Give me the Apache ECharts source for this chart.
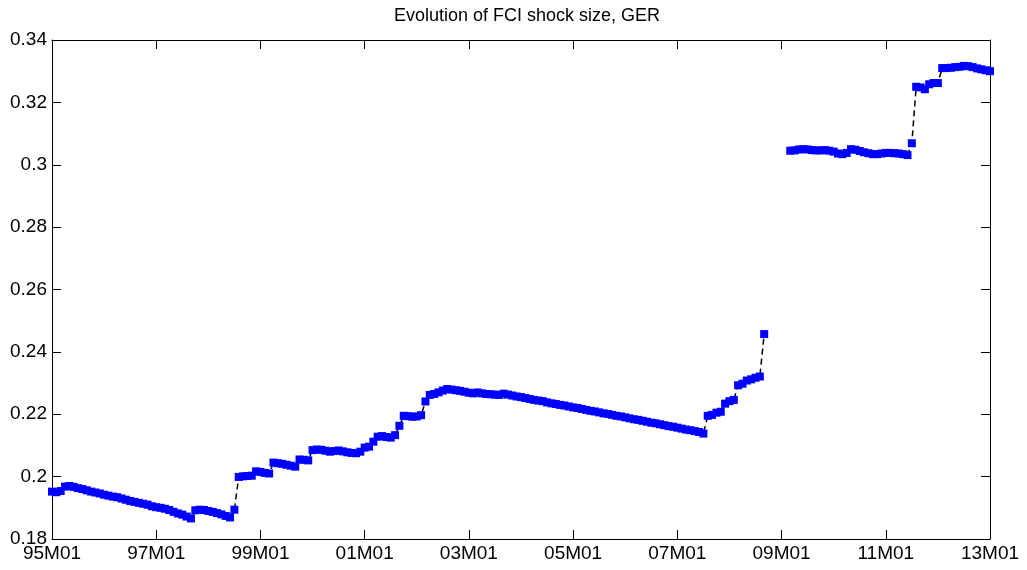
<!DOCTYPE html>
<html>
<head>
<meta charset="utf-8">
<title>Evolution of FCI shock size, GER</title>
<script src="https://cdn.jsdelivr.net/npm/echarts@6/dist/echarts.min.js"></script>
<style>
html, body { margin: 0; padding: 0; background: #fff; }
#chart { width: 1027px; height: 570px; }
</style>
</head>
<body>
<div id="chart"></div>
<script>
// monthly shock size, 95M01 .. 08M09
var shockA = [
    0.1952, 0.1950, 0.1954, 0.1968, 0.1970, 0.1967, 0.1963, 0.1960, 0.1956, 0.1952, 0.1949, 0.1946,
    0.1942, 0.1939, 0.1936, 0.1934, 0.1930, 0.1926, 0.1922, 0.1919, 0.1916, 0.1913, 0.1910, 0.1905,
    0.1902, 0.1900, 0.1897, 0.1893, 0.1887, 0.1882, 0.1878, 0.1872, 0.1866, 0.1892, 0.1894, 0.1893,
    0.1890, 0.1887, 0.1883, 0.1879, 0.1874, 0.1869, 0.1894, 0.1999, 0.2001, 0.2002, 0.2003, 0.2017,
    0.2015, 0.2012, 0.2010, 0.2045, 0.2043, 0.2041, 0.2038, 0.2035, 0.2032, 0.2055, 0.2054, 0.2052,
    0.2085, 0.2087, 0.2086, 0.2083, 0.2080, 0.2082, 0.2084, 0.2081, 0.2078, 0.2076, 0.2075, 0.2080,
    0.2093, 0.2096, 0.2112, 0.2128, 0.2130, 0.2127, 0.2125, 0.2133, 0.2163, 0.2195, 0.2194, 0.2192,
    0.2193, 0.2197, 0.2241, 0.2262, 0.2265, 0.2270, 0.2276, 0.2281, 0.2279, 0.2277, 0.2275, 0.2272,
    0.2269, 0.2267, 0.2270, 0.2267, 0.2265, 0.2264, 0.2263, 0.2262, 0.2266, 0.2263, 0.2260, 0.2257,
    0.2255, 0.2252, 0.2249, 0.2246, 0.2244, 0.2242, 0.2238, 0.2235, 0.2233, 0.2230, 0.2228, 0.2225,
    0.2222, 0.2220, 0.2217, 0.2214, 0.2211, 0.2209, 0.2206, 0.2203, 0.2201, 0.2198, 0.2195, 0.2193,
    0.2190, 0.2187, 0.2184, 0.2182, 0.2179, 0.2176, 0.2173, 0.2171, 0.2168, 0.2165, 0.2162, 0.2160,
    0.2157, 0.2154, 0.2151, 0.2149, 0.2146, 0.2143, 0.2138, 0.2195, 0.2198, 0.2205, 0.2208, 0.2234,
    0.2242, 0.2246, 0.2293, 0.2298, 0.2308, 0.2312, 0.2317, 0.2321, 0.2457
];
// 08M10 .. 09M02 missing
var gap = [null, null, null, null, null];
// 09M03 .. 13M01
var shockB = [
    0.3045, 0.3046, 0.3049, 0.3050, 0.3049, 0.3047, 0.3046, 0.3046, 0.3047, 0.3045,
    0.3042, 0.3036, 0.3034, 0.3038, 0.3050, 0.3048, 0.3044, 0.3040, 0.3037, 0.3034, 0.3034, 0.3036,
    0.3038, 0.3038, 0.3037, 0.3036, 0.3034, 0.3031, 0.3069, 0.3250, 0.3248, 0.3242, 0.3258, 0.3262,
    0.3262, 0.3310, 0.3310, 0.3311, 0.3313, 0.3314, 0.3317, 0.3316, 0.3313, 0.3309, 0.3306, 0.3303,
    0.3300
];
var yTicks = { min: 0.18, max: 0.34, step: 0.02 };
var labelEvery = 24;

// month labels 95M01 .. 13M01
var categories = [];
for (var y = 1995; y <= 2013; y++) {
    for (var mo = 1; mo <= 12; mo++) {
        if (y === 2013 && mo > 1) break;
        categories.push(String(y % 100).padStart(2, '0') + 'M' + String(mo).padStart(2, '0'));
    }
}
var values = shockA.concat(gap, shockB);

var font = 'Liberation Sans, Arial, sans-serif';
var showTick = function (i) { return i % labelEvery === 0; };

var chart = echarts.init(document.getElementById('chart'), null, { renderer: 'canvas' });
chart.setOption({
    animation: false,
    backgroundColor: '#fff',
    title: {
        text: 'Evolution of FCI shock size, GER',
        left: 522,
        textAlign: 'center',
        top: 2,
        textStyle: { fontFamily: font, fontWeight: 'normal', fontSize: 18, color: '#000' }
    },
    grid: { left: 52, right: 37, top: 40, bottom: 31, containLabel: false },
    xAxis: [{
        type: 'category',
        data: categories,
        boundaryGap: false,
        position: 'bottom',
        axisLine: { lineStyle: { color: '#000', width: 1 } },
        axisTick: { inside: true, length: 9, interval: showTick, lineStyle: { color: '#000' } },
        axisLabel: { interval: showTick, color: '#000', fontFamily: font, fontSize: 19, margin: 5 },
        splitLine: { show: false }
    }, {
        type: 'category',
        data: categories,
        boundaryGap: false,
        position: 'top',
        axisLine: { lineStyle: { color: '#000', width: 1 } },
        axisTick: { inside: true, length: 9, interval: showTick, lineStyle: { color: '#000' } },
        axisLabel: { show: false },
        splitLine: { show: false }
    }],
    yAxis: [{
        type: 'value',
        min: yTicks.min,
        max: yTicks.max,
        interval: yTicks.step,
        position: 'left',
        axisLine: { show: true, lineStyle: { color: '#000', width: 1 } },
        axisTick: { show: true, inside: true, length: 9, lineStyle: { color: '#000' } },
        axisLabel: {
            color: '#000', fontFamily: font, fontSize: 19, margin: 5,
            formatter: function (v) { return String(+v.toFixed(2)); }
        },
        splitLine: { show: false }
    }, {
        type: 'value',
        min: yTicks.min,
        max: yTicks.max,
        interval: yTicks.step,
        position: 'right',
        axisLine: { show: true, lineStyle: { color: '#000', width: 1 } },
        axisTick: { show: true, inside: true, length: 9, lineStyle: { color: '#000' } },
        axisLabel: { show: false },
        splitLine: { show: false }
    }],
    series: [{
        name: 'FCI shock size',
        type: 'line',
        xAxisIndex: 0,
        yAxisIndex: 0,
        data: values,
        connectNulls: false,
        showAllSymbol: true,
        symbol: 'rect',
        symbolSize: 8,
        itemStyle: { color: '#0000ff' },
        lineStyle: { color: '#000', width: 1.5, type: [6, 4] },
        emphasis: { disabled: true }
    }]
});
</script>
</body>
</html>
